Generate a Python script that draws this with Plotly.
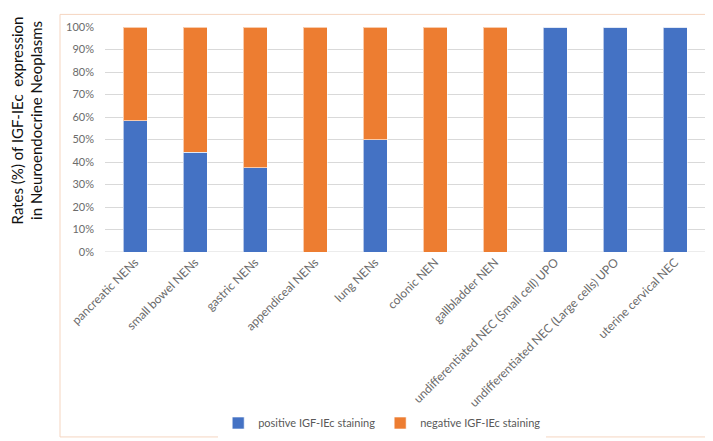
import plotly.graph_objects as go

categories = ["pancreatic NENs", "small bowel NENs", "gastric NENs", "appendiceal NENs",
              "lung NENs", "colonic NEN", "gallbladder NEN",
              "undifferentiated NEC (Small cell) UPO", "undifferentiated NEC (Large cells) UPO",
              "uterine cervical NEC"]
positive = [58.3, 44.4, 37.5, 0, 50, 0, 0, 100, 100, 100]
negative = [41.7, 55.6, 62.5, 100, 50, 100, 100, 0, 0, 0]
y_ticks = [0, 10, 20, 30, 40, 50, 60, 70, 80, 90, 100]
y_tick_labels = [f"{v}%" for v in y_ticks]

FONT = "Lato, 'Open Sans', sans-serif"
fig = go.Figure()
fig.add_trace(go.Bar(x=categories, y=positive, name="positive IGF-IEc staining",
                     marker=dict(color="#4472C4", line=dict(color="rgba(255,255,255,0.6)", width=1))))
fig.add_trace(go.Bar(x=categories, y=negative, name="negative IGF-IEc staining",
                     marker=dict(color="#ED7D31", line=dict(color="rgba(255,255,255,0.6)", width=1))))

fig.update_layout(
    barmode="stack", bargap=0.6,
    width=713, height=441,
    margin=dict(l=97, r=16, t=16, b=194),
    paper_bgcolor="white", plot_bgcolor="white",
    font=dict(family=FONT, color="#6b6b6b", size=11),
    showlegend=True,
    legend=dict(orientation="h", x=0.462, xanchor="center", y=-0.76, yanchor="middle",
                font=dict(size=11, color="#595959"), traceorder="normal",
                itemwidth=30),
    xaxis=dict(tickangle=-45, tickfont=dict(size=12, color="#6b6b6b"), showgrid=False,
               showline=False, ticks=""),
    yaxis=dict(range=[0, 100], tickvals=y_ticks, ticktext=y_tick_labels,
               showgrid=True, gridcolor="#D9D9D9", gridwidth=1, zeroline=False,
               showline=False, ticks="", ticklabelstandoff=10,
               tickfont=dict(size=11, color="#6b6b6b")),
    shapes=[dict(type="rect", xref="paper", yref="paper", x0=-0.075, x1=1.025,
                 y0=-0.822, y1=1.056, line=dict(color="#F5D5C0", width=1), layer="below")],
    annotations=[dict(text="Rates (%) of IGF-IEc  expression<br>in Neuroendocrine Neoplasms",
                      xref="paper", yref="paper", x=-0.13, y=0.585, showarrow=False,
                      xanchor="center", yanchor="middle",
                      textangle=-90, font=dict(size=15, color="#111111", family=FONT))],
)
fig.add_shape(type="line", xref="paper", yref="y", x0=0, x1=1, y0=0, y1=0,
              line=dict(color="#D9D9D9", width=1), layer="below")
fig.write_html("out.html")
